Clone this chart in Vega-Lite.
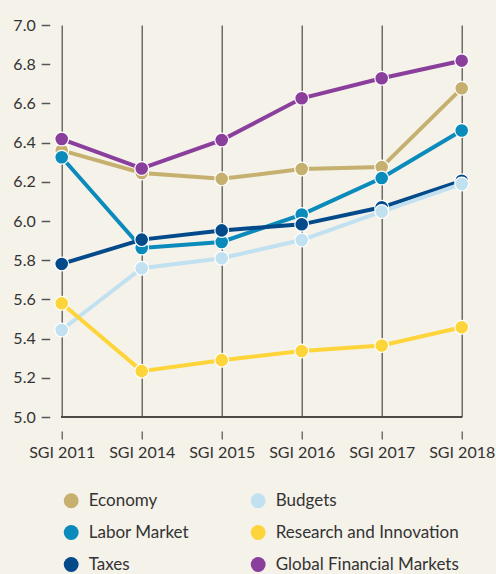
{
  "$schema": "https://vega.github.io/schema/vega-lite/v6.json",
  "width": 400,
  "height": 392,
  "autosize": {"type": "none"},
  "padding": {"left": 61.7, "top": 25, "right": 34.3, "bottom": 157},
  "background": "#f5f2ea",
  "config": {
    "font": "Lato",
    "view": {"stroke": null},
    "axis": {"labelFont": "Lato", "labelColor": "#333333", "labelFontSize": 16}
  },
  "data": {
    "values": [
      {"series": "Economy", "year": "SGI 2011", "value": 6.36},
      {"series": "Economy", "year": "SGI 2014", "value": 6.245},
      {"series": "Economy", "year": "SGI 2015", "value": 6.215},
      {"series": "Economy", "year": "SGI 2016", "value": 6.265},
      {"series": "Economy", "year": "SGI 2017", "value": 6.275},
      {"series": "Economy", "year": "SGI 2018", "value": 6.677},
      {"series": "Labor Market", "year": "SGI 2011", "value": 6.325},
      {"series": "Labor Market", "year": "SGI 2014", "value": 5.862},
      {"series": "Labor Market", "year": "SGI 2015", "value": 5.893},
      {"series": "Labor Market", "year": "SGI 2016", "value": 6.033},
      {"series": "Labor Market", "year": "SGI 2017", "value": 6.219},
      {"series": "Labor Market", "year": "SGI 2018", "value": 6.462},
      {"series": "Taxes", "year": "SGI 2011", "value": 5.781},
      {"series": "Taxes", "year": "SGI 2014", "value": 5.905},
      {"series": "Taxes", "year": "SGI 2015", "value": 5.952},
      {"series": "Taxes", "year": "SGI 2016", "value": 5.983},
      {"series": "Taxes", "year": "SGI 2017", "value": 6.07},
      {"series": "Taxes", "year": "SGI 2018", "value": 6.205},
      {"series": "Budgets", "year": "SGI 2011", "value": 5.444},
      {"series": "Budgets", "year": "SGI 2014", "value": 5.759},
      {"series": "Budgets", "year": "SGI 2015", "value": 5.81},
      {"series": "Budgets", "year": "SGI 2016", "value": 5.903},
      {"series": "Budgets", "year": "SGI 2017", "value": 6.048},
      {"series": "Budgets", "year": "SGI 2018", "value": 6.189},
      {"series": "Research and Innovation", "year": "SGI 2011", "value": 5.58},
      {"series": "Research and Innovation", "year": "SGI 2014", "value": 5.234},
      {"series": "Research and Innovation", "year": "SGI 2015", "value": 5.29},
      {"series": "Research and Innovation", "year": "SGI 2016", "value": 5.337},
      {"series": "Research and Innovation", "year": "SGI 2017", "value": 5.365},
      {"series": "Research and Innovation", "year": "SGI 2018", "value": 5.458},
      {"series": "Global Financial Markets", "year": "SGI 2011", "value": 6.418},
      {"series": "Global Financial Markets", "year": "SGI 2014", "value": 6.268},
      {"series": "Global Financial Markets", "year": "SGI 2015", "value": 6.413},
      {"series": "Global Financial Markets", "year": "SGI 2016", "value": 6.626},
      {"series": "Global Financial Markets", "year": "SGI 2017", "value": 6.728},
      {"series": "Global Financial Markets", "year": "SGI 2018", "value": 6.818}
    ]
  },
  "encoding": {
    "x": {
      "field": "year",
      "type": "ordinal",
      "sort": null,
      "scale": {"type": "point", "padding": 0},
      "axis": {
        "title": null,
        "labelAngle": 0,
        "domain": false,
        "grid": true,
        "gridColor": "#4d4a47",
        "gridWidth": 1.2,
        "offset": 14,
        "tickSize": 8,
        "tickColor": "#333333",
        "tickWidth": 1,
        "labelPadding": 5
      }
    },
    "y": {
      "field": "value",
      "type": "quantitative",
      "scale": {"domain": [5, 7], "nice": false, "zero": false},
      "axis": {
        "title": null,
        "format": ".1f",
        "values": [5.0, 5.2, 5.4, 5.6, 5.8, 6.0, 6.2, 6.4, 6.6, 6.8, 7.0],
        "labelOverlap": false,
        "domain": false,
        "grid": false,
        "offset": 12,
        "tickSize": 8.5,
        "tickWidth": 1.5,
        "tickColor": "#555555",
        "labelPadding": 6
      }
    },
    "color": {
      "field": "series",
      "type": "nominal",
      "scale": {
        "domain": ["Economy", "Labor Market", "Taxes", "Budgets", "Research and Innovation", "Global Financial Markets"],
        "range": ["#c6b06f", "#0a8bbb", "#034a8b", "#c2e1f0", "#fdd53b", "#8a3f9c"]
      },
      "legend": {
        "title": null,
        "orient": "none",
        "legendX": 1,
        "legendY": 467,
        "columns": 2,
        "columnPadding": 60,
        "rowPadding": 14,
        "symbolType": "circle",
        "symbolSize": 220,
        "symbolStrokeWidth": 0,
        "labelFontSize": 17,
        "labelColor": "#333333",
        "labelFont": "Lato",
        "labelOffset": 9,
        "labelLimit": 300
      }
    }
  },
  "layer": [
    {
      "mark": {"type": "rule", "color": "#4d4a47", "strokeWidth": 1.2},
      "encoding": {"y": {"datum": 5}, "x": null, "color": null}
    },
    {
      "mark": {"type": "line", "strokeWidth": 4}
    },
    {
      "mark": {"type": "point", "filled": true, "size": 190, "opacity": 1, "stroke": "#ffffff", "strokeWidth": 1.2}
    }
  ]
}
